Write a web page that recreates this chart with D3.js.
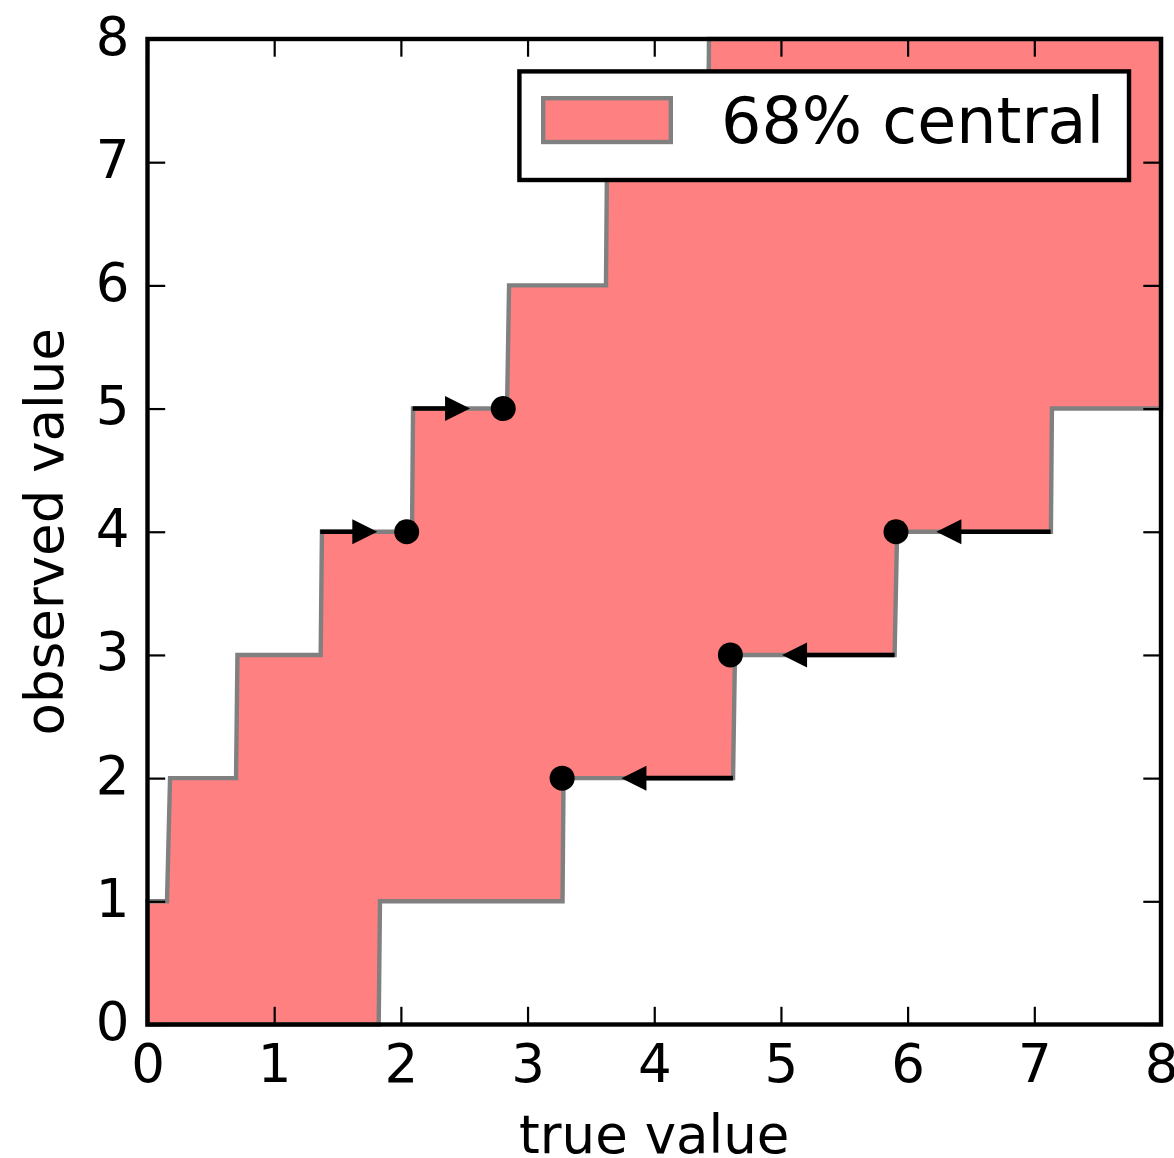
<!DOCTYPE html>
<html>
<head>
<meta charset="utf-8">
<script src="https://cdn.jsdelivr.net/npm/d3@7/dist/d3.min.js"></script>
<style>
	body { margin: 0; background: #fff; }
	svg { display: block; }
	text { font-family: "DejaVu Sans", sans-serif; }
</style>
</head>
<body>
<div id="chart"></div>
<script>

// axis ticks
var xTicks = [0, 1, 2, 3, 4, 5, 6, 7, 8];
var yTicks = [0, 1, 2, 3, 4, 5, 6, 7, 8];

// left / upper edge of the 68% band, as [true, observed]
var bandUpper = [
	[0, 0], [0, 1],
	[0.154, 1], [0.178, 2],
	[0.699, 2], [0.710, 3],
	[1.367, 3], [1.377, 4],
	[2.088, 4], [2.096, 5],
	[2.838, 5], [2.854, 6],
	[3.619, 6], [3.627, 7],
	[4.424, 7], [4.432, 8],
	[8, 8]
];

// right / lower edge of the band
var bandLower = [
	[1.825, 0], [1.835, 1],
	[3.276, 1], [3.284, 2],
	[4.622, 2], [4.637, 3],
	[5.897, 3], [5.917, 4],
	[7.131, 4], [7.139, 5],
	[8, 5]
];

// the dots
var pointX = [2.046, 2.808, 3.273, 4.601, 5.908];
var pointY = [4, 5, 2, 3, 4];

// arrows: observed level, start and tip on the true axis
var arrowY    = [4, 5, 2, 3, 4];
var arrowFrom = [1.363, 2.093, 4.621, 5.897, 7.129];
var arrowTo   = [1.814, 2.546, 3.741, 5.009, 6.227];

var legendLabel = "68% central";

var width = 1174, height = 1158;
var margin = { "top": 39, "right": 13, "bottom": 133.5, "left": 147.5 };
var w = width - margin.left - margin.right;
var h = height - margin.top - margin.bottom;

var bandFill = "#ff8080";
var edgeGrey = "#808080";

var svg = d3.select("#chart").append("svg")
	.attr("width", width)
	.attr("height", height);

var g = svg.append("g")
	.attr("transform", "translate(" + margin.left + "," + margin.top + ")");

var x = d3.scaleLinear().domain([0, 8]).range([0, w]);
var y = d3.scaleLinear().domain([0, 8]).range([h, 0]);

// band polygon: upper edge then lower edge backwards
var poly = bandUpper.concat(bandLower.slice().reverse());
var line = d3.line().x(function(d) { return x(d[0]); }).y(function(d) { return y(d[1]); });

g.append("path")
	.attr("d", line(poly) + "Z")
	.attr("fill", bandFill)
	.attr("stroke", edgeGrey)
	.attr("stroke-width", 4.4)
	.attr("stroke-linejoin", "miter");

// arrows
var headLen = 25, headHalf = 12.5;
for (var i = 0; i < arrowY.length; i++) {
	var x0 = x(arrowFrom[i]), x1 = x(arrowTo[i]), yy = y(arrowY[i]);
	var dir = x1 > x0 ? 1 : -1;
	var xb = x1 - dir * headLen;
	g.append("line")
		.attr("x1", x0)
		.attr("y1", yy)
		.attr("x2", xb + dir * 1)
		.attr("y2", yy)
		.attr("stroke", "black")
		.attr("stroke-width", 4.6);
	g.append("path")
		.attr("d", "M" + x1 + "," + yy + "L" + xb + "," + (yy - headHalf) + "L" + xb + "," + (yy + headHalf) + "Z")
		.attr("fill", "black");
}

// dots
g.selectAll("circle.pt")
	.data(pointX)
	.enter().append("circle")
	.attr("class", "pt")
	.attr("cx", function(d) { return x(d); })
	.attr("cy", function(d, i) { return y(pointY[i]); })
	.attr("r", 12.5)
	.attr("fill", "black");

// axes, ticks pointing inwards on all four sides
var tickLen = 17.7;
function styleAxis(sel) {
	sel.select(".domain").remove();
	sel.selectAll(".tick line").attr("stroke", "black").attr("stroke-width", 2.2);
	sel.selectAll(".tick text")
		.attr("fill", "black")
		.style("font-size", "53px")
		.style("font-family", "'DejaVu Sans', sans-serif");
}

var xAxis = g.append("g")
	.attr("transform", "translate(0," + h + ")")
	.call(d3.axisBottom(x).tickValues(xTicks).tickSizeInner(-tickLen).tickSizeOuter(0).tickFormat(d3.format("d")));
styleAxis(xAxis);
xAxis.selectAll(".tick text").attr("y", 57.5).attr("dy", null);

var yAxis = g.append("g")
	.call(d3.axisLeft(y).tickValues(yTicks).tickSizeInner(-tickLen).tickSizeOuter(0).tickFormat(d3.format("d")));
styleAxis(yAxis);
yAxis.selectAll(".tick text").attr("x", -18).attr("dy", 15);

var xTop = g.append("g")
	.call(d3.axisTop(x).tickValues(xTicks).tickSizeInner(-tickLen).tickSizeOuter(0).tickFormat(""));
styleAxis(xTop);

var yRight = g.append("g")
	.attr("transform", "translate(" + w + ",0)")
	.call(d3.axisRight(y).tickValues(yTicks).tickSizeInner(-tickLen).tickSizeOuter(0).tickFormat(""));
styleAxis(yRight);

// frame
g.append("rect")
	.attr("x", 0)
	.attr("y", 0)
	.attr("width", w)
	.attr("height", h)
	.attr("fill", "none")
	.attr("stroke", "black")
	.attr("stroke-width", 4.4);

// axis labels
g.append("text")
	.attr("x", w / 2)
	.attr("y", h + 128.5)
	.attr("text-anchor", "middle")
	.style("font-size", "53px")
	.text("true value");

g.append("text")
	.attr("transform", "translate(" + (63 - margin.left) + "," + (h / 2) + ") rotate(-90)")
	.attr("text-anchor", "middle")
	.style("font-size", "53px")
	.text("observed value");

// legend
var leg = svg.append("g");
leg.append("rect")
	.attr("x", 519.4)
	.attr("y", 71.4)
	.attr("width", 1129 - 519.4)
	.attr("height", 180 - 71.4)
	.attr("fill", "white")
	.attr("stroke", "black")
	.attr("stroke-width", 4.4);
leg.append("rect")
	.attr("x", 543.2)
	.attr("y", 98.2)
	.attr("width", 670.8 - 543.2)
	.attr("height", 142 - 98.2)
	.attr("fill", bandFill)
	.attr("stroke", edgeGrey)
	.attr("stroke-width", 4.4);
leg.append("text")
	.attr("x", 721)
	.attr("y", 143)
	.style("font-size", "63.5px")
	.text(legendLabel);

</script>
</body>
</html>
